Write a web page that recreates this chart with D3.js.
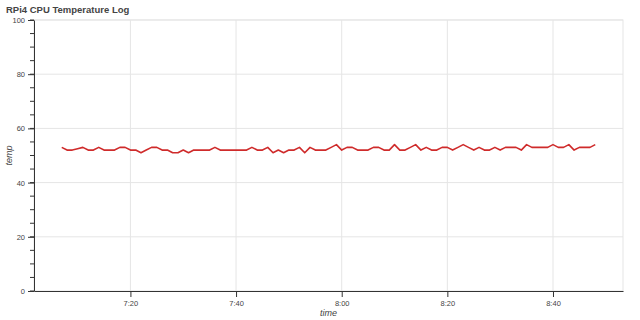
<!DOCTYPE html>
<html>
<head>
<meta charset="utf-8">
<script src="https://cdn.jsdelivr.net/npm/d3@7"></script>
<style>
  body { margin: 0; background: #fff; }
  svg { font-family: "Liberation Sans", Arial, Helvetica, sans-serif; }
  .tick text { fill: #444; font-size: 7.5px; }
  .domain, .tick line { stroke: #333; }
</style>
</head>
<body>
<svg id="chart" width="640" height="320"></svg>
<script>
// readings, one per minute
var times = [
  "7:07","7:08","7:09","7:10","7:11","7:12","7:13","7:14","7:15","7:16",
  "7:17","7:18","7:19","7:20","7:21","7:22","7:23","7:24","7:25","7:26",
  "7:27","7:28","7:29","7:30","7:31","7:32","7:33","7:34","7:35","7:36",
  "7:37","7:38","7:39","7:40","7:41","7:42","7:43","7:44","7:45","7:46",
  "7:47","7:48","7:49","7:50","7:51","7:52","7:53","7:54","7:55","7:56",
  "7:57","7:58","7:59","8:00","8:01","8:02","8:03","8:04","8:05","8:06",
  "8:07","8:08","8:09","8:10","8:11","8:12","8:13","8:14","8:15","8:16",
  "8:17","8:18","8:19","8:20","8:21","8:22","8:23","8:24","8:25","8:26",
  "8:27","8:28","8:29","8:30","8:31","8:32","8:33","8:34","8:35","8:36",
  "8:37","8:38","8:39","8:40","8:41","8:42","8:43","8:44","8:45","8:46",
  "8:47","8:48"
];
var temps = [
  53,52,52,52.5,53,52,52,53,52,52,
  52,53,53,52,52,51,52,53,53,52,
  52,51,51,52,51,52,52,52,52,53,
  52,52,52,52,52,52,53,52,52,53,
  51,52,51,52,52,53,51,53,52,52,
  52,53,54,52,53,53,52,52,52,53,
  53,52,52,54,52,52,53,54,52,53,
  52,52,53,53,52,53,54,53,52,53,
  52,52,53,52,53,53,53,52,54,53,
  53,53,53,54,53,53,54,52,53,53,
  53,54
];
var yTicks = [0, 20, 40, 60, 80, 100];
var xTickLabels = ["7:20", "7:40", "8:00", "8:20", "8:40"];

var parseTime = d3.timeParse("%H:%M");
var data = times.map(function(t, i) { return {t: parseTime(t), v: temps[i]}; });

var svg = d3.select("#chart");
var mLeft = 34, mRight = 623, mTop = 20, mBottom = 291;

// 5% padding on each side like bokeh's default range
var ext = d3.extent(data, function(d) { return d.t; });
var pad = (ext[1] - ext[0]) * 0.052;
var x = d3.scaleTime()
    .domain([new Date(+ext[0] - pad), new Date(+ext[1] + pad)])
    .range([mLeft, mRight]);
var y = d3.scaleLinear().domain([0, 100]).range([mBottom, mTop]);

var xTicks = xTickLabels.map(function(s) { return parseTime(s); });

// frame outline
svg.append("rect")
    .attr("x", mLeft).attr("y", mTop)
    .attr("width", mRight - mLeft).attr("height", mBottom - mTop)
    .attr("fill", "none").attr("stroke", "#e5e5e5");

// grid
svg.append("g").selectAll("line").data(yTicks.slice(1)).enter().append("line")
    .attr("x1", mLeft).attr("x2", mRight)
    .attr("y1", function(d) { return y(d); }).attr("y2", function(d) { return y(d); })
    .attr("stroke", "#e5e5e5");
svg.append("g").selectAll("line").data(xTicks).enter().append("line")
    .attr("y1", mTop).attr("y2", mBottom)
    .attr("x1", function(d) { return x(d); }).attr("x2", function(d) { return x(d); })
    .attr("stroke", "#e5e5e5");

// y minor ticks
svg.append("g").selectAll("line").data(d3.range(0, 101, 5)).enter().append("line")
    .attr("x1", mLeft - 4).attr("x2", mLeft)
    .attr("y1", function(d) { return y(d); }).attr("y2", function(d) { return y(d); })
    .attr("stroke", "#333");

// axes
svg.append("g")
    .attr("transform", "translate(" + mLeft + ",0)")
    .call(d3.axisLeft(y).tickValues(yTicks).tickSizeOuter(0).tickSizeInner(6).tickPadding(3));

svg.append("g")
    .attr("transform", "translate(0," + mBottom + ")")
    .call(d3.axisBottom(x).tickValues(xTicks).tickFormat(d3.timeFormat("%-H:%M"))
        .tickSizeOuter(0).tickSizeInner(6).tickPadding(4));

// line
svg.append("path")
    .datum(data)
    .attr("fill", "none")
    .attr("stroke", "#cf2b2b")
    .attr("stroke-width", 1.6)
    .attr("stroke-linejoin", "round")
    .attr("d", d3.line().x(function(d) { return x(d.t); }).y(function(d) { return y(d.v); }));

// labels
svg.append("text")
    .attr("x", 6).attr("y", 13)
    .attr("font-size", "9.5px").attr("font-weight", "bold").attr("fill", "#444")
    .text("RPi4 CPU Temperature Log");

svg.append("text")
    .attr("x", (mLeft + mRight) / 2).attr("y", 316)
    .attr("text-anchor", "middle")
    .attr("font-size", "9px").attr("font-style", "italic").attr("fill", "#444")
    .text("time");

svg.append("text")
    .attr("transform", "translate(12," + ((mTop + mBottom) / 2) + ") rotate(-90)")
    .attr("text-anchor", "middle")
    .attr("font-size", "9px").attr("font-style", "italic").attr("fill", "#444")
    .text("temp");
</script>
</body>
</html>
